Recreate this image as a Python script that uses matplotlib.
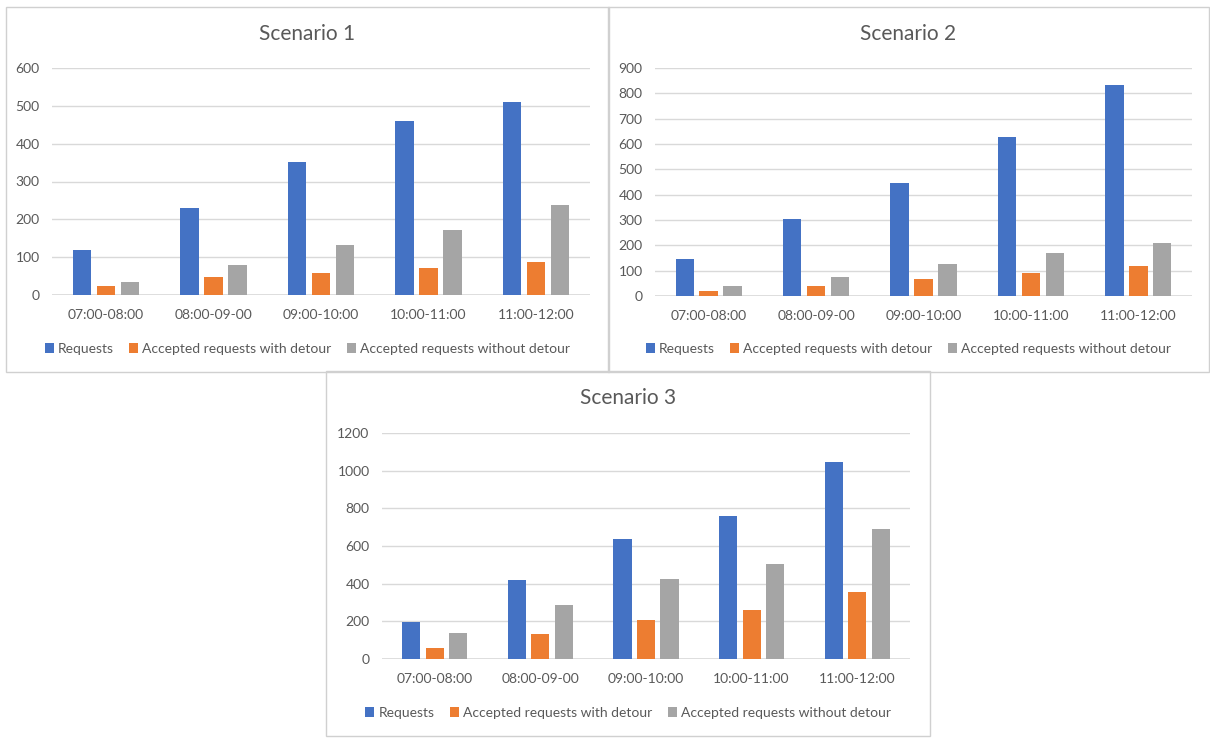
import matplotlib.pyplot as plt
from matplotlib.patches import Rectangle

plt.rcParams['font.family'] = ['Lato', 'DejaVu Sans']

# Datos de cada escenario
franjas = ['07:00-08:00', '08:00-09-00', '09:00-10:00', '10:00-11:00', '11:00-12:00']
series = ['Requests', 'Accepted requests with detour', 'Accepted requests without detour']

esc1_requests = [118, 229, 352, 460, 509]
esc1_con_desvio = [25, 48, 59, 71, 88]
esc1_sin_desvio = [35, 79, 132, 171, 238]

esc2_requests = [146, 303, 445, 629, 831]
esc2_con_desvio = [18, 40, 67, 92, 119]
esc2_sin_desvio = [40, 75, 128, 168, 211]

esc3_requests = [198, 419, 637, 758, 1044]
esc3_con_desvio = [56, 133, 209, 261, 354]
esc3_sin_desvio = [139, 286, 425, 502, 689]

colores = ['#4472C4', '#ED7D31', '#A5A5A5']
gris_texto = '#595959'
gris_rejilla = '#D9D9D9'

W, H = 1210, 738
fig = plt.figure(figsize=(W / 100, H / 100), dpi=100)
fig.patch.set_facecolor('white')

# (titulo, datos, ymax, paso, marco [x0, y0, x1, y1], area del grafico [x0, y0, x1, y1]) en pixeles
paneles = [
    ('Scenario 1', [esc1_requests, esc1_con_desvio, esc1_sin_desvio], 600, 100,
     (6, 7, 609, 372), (52, 68, 590, 295)),
    ('Scenario 2', [esc2_requests, esc2_con_desvio, esc2_sin_desvio], 900, 100,
     (608, 7, 1209, 372), (655, 68, 1192, 296)),
    ('Scenario 3', [esc3_requests, esc3_con_desvio, esc3_sin_desvio], 1200, 200,
     (326, 371, 930, 736), (382, 433, 910, 659)),
]

desplazamientos = [-0.223, 0.0, 0.223]
ancho = 0.172

for titulo, datos, ymax, paso, marco, area in paneles:
    # Marco del grafico
    fx0, fy0, fx1, fy1 = marco
    fig.patches.append(Rectangle((fx0 / W, 1 - fy1 / H), (fx1 - fx0) / W, (fy1 - fy0) / H,
                                 transform=fig.transFigure, facecolor='none',
                                 edgecolor='#D0D0D0', linewidth=1.0, zorder=0))

    x0, y0, x1, y1 = area
    ax = fig.add_axes([x0 / W, 1 - y1 / H, (x1 - x0) / W, (y1 - y0) / H])
    ax.set_facecolor('none')

    pos = range(len(franjas))
    for valores, dx, color, nombre in zip(datos, desplazamientos, colores, series):
        ax.bar([p + dx for p in pos], valores, width=ancho, color=color,
               label=nombre, zorder=3)

    ax.set_xlim(-0.5, len(franjas) - 0.5)
    ax.set_ylim(0, ymax)
    ax.set_yticks(range(0, ymax + 1, paso))
    ax.set_xticks(list(pos))
    ax.set_xticklabels(franjas)
    ax.yaxis.grid(True, color=gris_rejilla, linewidth=1.0, zorder=0)
    for s in ax.spines.values():
        s.set_visible(False)
    ax.axhline(0, color=gris_rejilla, linewidth=1.2, zorder=2)
    ax.tick_params(axis='both', length=0, labelsize=10, labelcolor=gris_texto)
    ax.tick_params(axis='y', pad=9)
    ax.tick_params(axis='x', pad=10)

    cx = (fx0 + fx1) / 2
    fig.text(cx / W, 1 - (fy0 + 27) / H, titulo, ha='center', va='center',
             fontsize=15, color=gris_texto)

    ax.legend(loc='center', bbox_to_anchor=(cx / W, 1 - (fy1 - 23) / H),
              bbox_transform=fig.transFigure, ncol=3, frameon=False,
              fontsize=10, labelcolor=gris_texto, handlelength=0.65,
              handleheight=0.65, handletextpad=0.3, columnspacing=1.1)

fig.savefig('out.png', dpi=100, facecolor='white')
